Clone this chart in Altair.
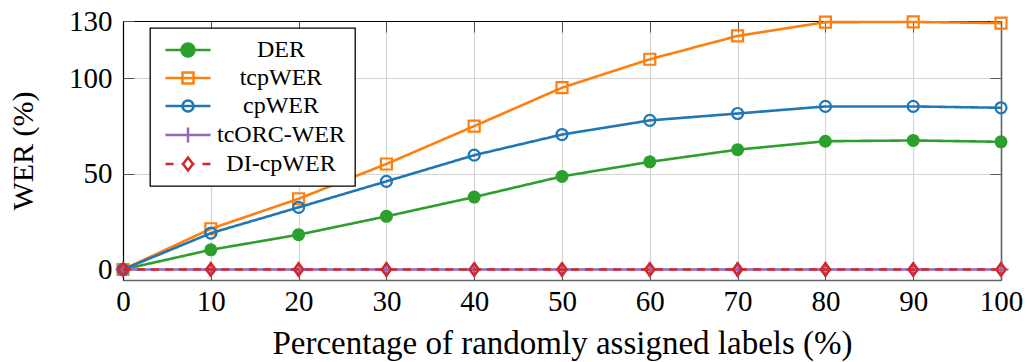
import altair as alt
import pandas as pd

FONT = "Liberation Serif, DejaVu Serif, Times New Roman, serif"

x_vals = [0, 10, 20, 30, 40, 50, 60, 70, 80, 90, 100]
der = [0, 10.3, 18.2, 27.8, 37.9, 48.7, 56.3, 62.7, 67.1, 67.5, 66.8]
tcpwer = [0, 21.3, 37.0, 55.2, 75.0, 95.1, 110.0, 122.2, 129.4, 129.5, 128.9]
cpwer = [0, 19.0, 32.5, 46.1, 59.8, 70.6, 78.0, 81.6, 85.3, 85.3, 84.6]
tcorc = [0, 0, 0, 0, 0, 0, 0, 0, 0, 0, 0]
dicpwer = [0, 0, 0, 0, 0, 0, 0, 0, 0, 0, 0]
y_ticks = [0, 50, 100, 130]

series_names = ["DER", "tcpWER", "cpWER", "tcORC-WER", "DI-cpWER"]
series_values = [der, tcpwer, cpwer, tcorc, dicpwer]
colors = ["#2ca02c", "#ff7f0e", "#1f77b4", "#9467bd", "#d62728"]

rows = []
for name, vals in zip(series_names, series_values):
    for xv, yv in zip(x_vals, vals):
        rows.append({"x": xv, "value": yv, "series": name})
df = pd.DataFrame(rows)

xscale = alt.Scale(domain=[0, 100], nice=False, zero=False)
yscale = alt.Scale(domain=[-5.5, 130], nice=False, zero=False)

# axes
grid_x = alt.Axis(orient="bottom", grid=True, gridColor="#d4d4d4", gridWidth=1.2,
                  ticks=False, labels=False, domain=True, domainColor="#666666",
                  domainWidth=1.6, values=x_vals, title=None)
grid_y = alt.Axis(orient="left", grid=True, gridColor="#d4d4d4", gridWidth=1.2,
                  ticks=False, labels=False, domain=True, domainColor="#000000",
                  domainWidth=1.2, values=y_ticks, title=None)
main_x = alt.Axis(orient="bottom", offset=-11, tickSize=11, tickColor="#555555", tickWidth=1,
                  labels=True, labelFont=FONT, labelFontSize=29, labelColor="black",
                  labelPadding=7, labelFlush=False, labelOverlap=False,
                  domain=False, grid=False, values=x_vals,
                  title="Percentage of randomly assigned labels (%)", titleFont=FONT,
                  titleFontSize=33, titleFontWeight="normal", titleColor="black", titlePadding=11)
main_y = alt.Axis(orient="left", offset=-11, tickSize=11, tickColor="#555555", tickWidth=1,
                  labels=True, labelFont=FONT, labelFontSize=29, labelColor="black",
                  labelPadding=11, labelOverlap=False, domain=False, grid=False, values=y_ticks,
                  title="WER (%)", titleFont=FONT, titleFontSize=30, titleFontWeight="normal",
                  titleColor="black", titlePadding=30)
top_ticks = alt.Axis(orient="top", offset=-11, tickSize=11, tickColor="#555555", tickWidth=1,
                     labels=False, domain=False, grid=False, values=x_vals, title=None)
right_ticks = alt.Axis(orient="right", offset=-11, tickSize=11, tickColor="#555555", tickWidth=1,
                       labels=False, domain=False, grid=False, values=y_ticks, title=None)
top_dom = alt.Axis(orient="top", ticks=False, labels=False, grid=False, domain=True,
                   domainColor="#000000", domainWidth=1.2, values=x_vals, title=None)
right_dom = alt.Axis(orient="right", ticks=False, labels=False, grid=False, domain=True,
                     domainColor="#666666", domainWidth=1.6, values=y_ticks, title=None)

axis_pairs = {
    0: (grid_x, grid_y),
    1: (main_x, main_y),
    2: (top_ticks, right_ticks),
    3: (top_dom, right_dom),
}

plus_path = "M-1,0H1M0,-1V1"
diamond_path = "M0,-1L0.75,0L0,1L-0.75,0Z"

point_styles = [
    dict(shape="circle", filled=True, size=169, strokeWidth=0),
    dict(shape="square", filled=False, size=121, strokeWidth=2.2),
    dict(shape="circle", filled=False, size=121, strokeWidth=2.2),
    dict(shape=plus_path, filled=False, size=225, strokeWidth=2.2),
    dict(shape=diamond_path, filled=False, size=150, strokeWidth=2.6),
]
dashes = [[1, 0], [1, 0], [1, 0], [1, 0], [8, 6]]

# legend symbol paths (line + marker), unit = 6.5 px with symbolSize 169
legend_paths = [
    "M-3.46,0H3.46M-1,0A1,1,0,1,0,1,0A1,1,0,1,0,-1,0Z",
    "M-3.46,0H3.46M-0.85,-0.85H0.85V0.85H-0.85Z",
    "M-3.46,0H3.46M-0.85,0A0.85,0.85,0,1,0,0.85,0A0.85,0.85,0,1,0,-0.85,0Z",
    "M-3.46,0H3.46M0,-1.15V1.15",
    "M-3.46,0H-2.23M-1.0,0H-0.75M0.75,0H1.0M2.23,0H3.46M0,-1L0.75,0L0,1L-0.75,0Z",
]
legend_fills = ["#2ca02c", "white", "white", "white", "white"]

legend = alt.Legend(title=None, orient="none", legendX=27, legendY=7, direction="vertical",
                    fillColor="white", strokeColor="black", padding=10,
                    symbolSize=169, symbolStrokeWidth=2.5, symbolOffset=16, symbolOpacity=1,
                    labelFont=FONT, labelFontSize=24, labelColor="black", labelAlign="center",
                    labelOffset=81, rowPadding=4, labelLimit=300)

legend_layer = alt.Chart(df).mark_point(opacity=0).encode(
    x=alt.X("x:Q", scale=xscale, axis=None),
    y=alt.Y("value:Q", scale=yscale, axis=None),
    shape=alt.Shape("series:N", scale=alt.Scale(domain=series_names, range=legend_paths), legend=legend),
    stroke=alt.Stroke("series:N", scale=alt.Scale(domain=series_names, range=colors), legend=legend),
    fill=alt.Fill("series:N", scale=alt.Scale(domain=series_names, range=legend_fills), legend=legend),
)

layers = [legend_layer]
idx = 0
for i, name in enumerate(series_names):
    base = alt.Chart(df).transform_filter(alt.datum.series == name)
    ax = axis_pairs.get(idx, (None, None))
    line = base.mark_line(color=colors[i], strokeWidth=2.6, strokeDash=dashes[i]).encode(
        x=alt.X("x:Q", scale=xscale, axis=ax[0]),
        y=alt.Y("value:Q", scale=yscale, axis=ax[1]),
    )
    idx += 1
    layers.append(line)
    ax = axis_pairs.get(idx, (None, None))
    st = point_styles[i]
    pts = base.mark_point(color=colors[i], opacity=1, shape=st["shape"], filled=st["filled"],
                          size=st["size"], strokeWidth=st["strokeWidth"]).encode(
        x=alt.X("x:Q", scale=xscale, axis=ax[0]),
        y=alt.Y("value:Q", scale=yscale, axis=ax[1]),
    )
    idx += 1
    layers.append(pts)

chart = alt.layer(*layers).resolve_axis(x="independent", y="independent").properties(
    width=878, height=259,
    autosize=alt.AutoSizeParams(type="none"),
    padding={"left": 123, "top": 21, "right": 26, "bottom": 82},
    background="white",
).configure_view(stroke=None).configure_legend(strokeWidth=1.3)

chart.save("out.html", embed_options={"renderer": "svg", "actions": False})
